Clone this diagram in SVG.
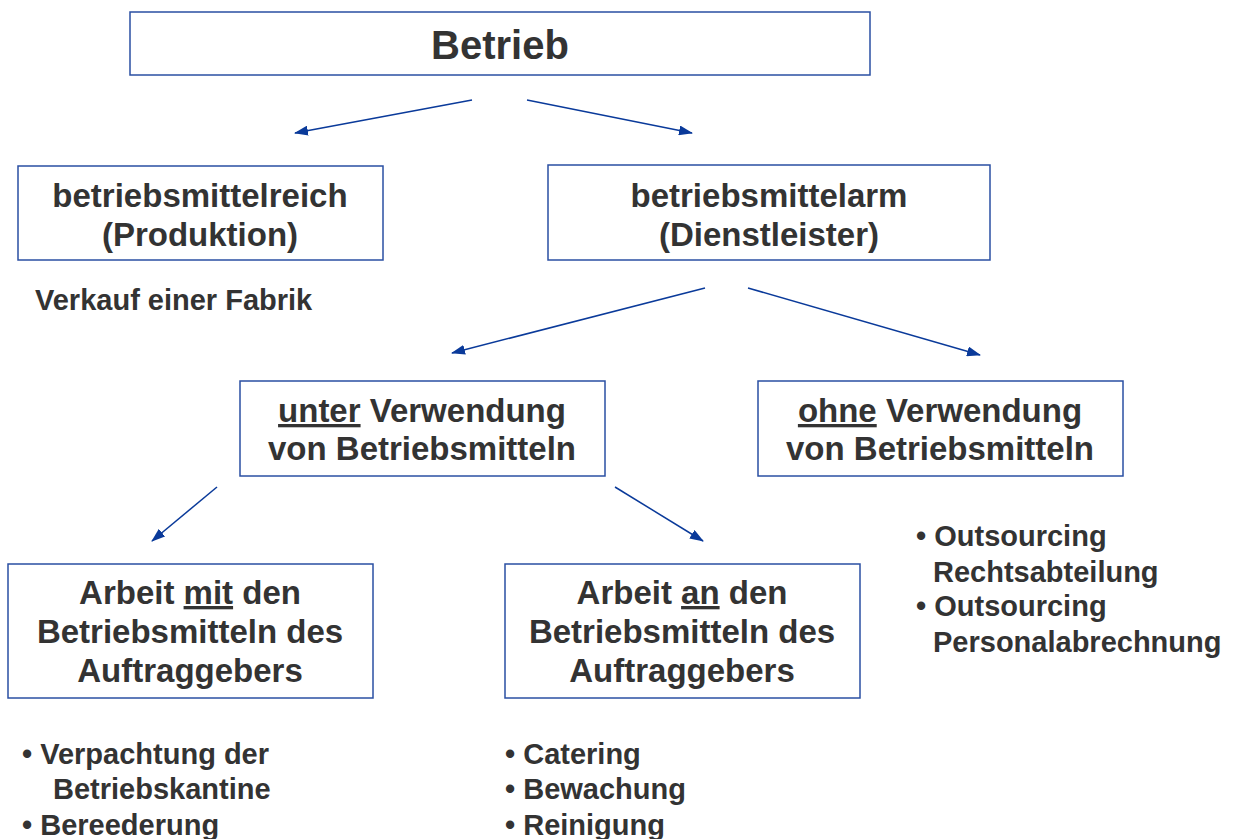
<svg xmlns="http://www.w3.org/2000/svg" width="1238" height="839" viewBox="0 0 1238 839">
<defs>
<style>
.box{fill:#fff;stroke:#2a4fa3;stroke-width:1.5}
.t{font-family:"Liberation Sans",Arial,sans-serif;font-weight:bold;fill:#333;}
.bt{font-size:33px;text-anchor:middle}
.lt{font-size:29px}
.c{stroke:#0a3a9a;stroke-width:1.5;fill:none;marker-end:url(#ah)}
</style>
<marker id="ah" viewBox="0 0 14 10" refX="13" refY="5" markerWidth="14" markerHeight="10" markerUnits="userSpaceOnUse" orient="auto">
<path d="M0,0 L14,5 L0,10 z" fill="#0a3a9a"/>
</marker>
</defs>
<rect width="1238" height="839" fill="#fff"/>
<g id="connectors">
<line class="c" x1="472" y1="100" x2="295" y2="133"/>
<line class="c" x1="527" y1="100" x2="692" y2="133"/>
<line class="c" x1="705" y1="288" x2="452" y2="353"/>
<line class="c" x1="748" y1="288" x2="980" y2="355"/>
<line class="c" x1="217" y1="487" x2="152" y2="541"/>
<line class="c" x1="615" y1="487" x2="703" y2="541"/>
</g>
<g id="betrieb">
<rect class="box" x="130" y="12" width="740" height="63"/>
<text class="t" x="500" y="59" font-size="40" text-anchor="middle">Betrieb</text>
</g>
<g id="reich">
<rect class="box" x="18" y="166" width="365" height="94"/>
<text class="t bt" x="200" y="207">betriebsmittelreich</text>
<text class="t bt" x="200" y="246">(Produktion)</text>
</g>
<g id="arm">
<rect class="box" x="548" y="165" width="442" height="95"/>
<text class="t bt" x="769" y="207">betriebsmittelarm</text>
<text class="t bt" x="769" y="246">(Dienstleister)</text>
</g>
<g id="verkauf">
<text class="t lt" x="35" y="310">Verkauf einer Fabrik</text>
</g>
<g id="unter">
<rect class="box" x="240" y="381" width="365" height="95"/>
<text class="t bt" x="422" y="422"><tspan text-decoration="underline">unter</tspan> Verwendung</text>
<text class="t bt" x="422" y="460">von Betriebsmitteln</text>
</g>
<g id="ohne">
<rect class="box" x="758" y="381" width="365" height="95"/>
<text class="t bt" x="940" y="422"><tspan text-decoration="underline">ohne</tspan> Verwendung</text>
<text class="t bt" x="940" y="460">von Betriebsmitteln</text>
</g>
<g id="mit">
<rect class="box" x="8" y="564" width="365" height="134"/>
<text class="t bt" x="190" y="604">Arbeit <tspan text-decoration="underline">mit</tspan> den</text>
<text class="t bt" x="190" y="643">Betriebsmitteln des</text>
<text class="t bt" x="190" y="682">Auftraggebers</text>
</g>
<g id="an">
<rect class="box" x="505" y="564" width="355" height="134"/>
<text class="t bt" x="682" y="604">Arbeit <tspan text-decoration="underline">an</tspan> den</text>
<text class="t bt" x="682" y="643">Betriebsmitteln des</text>
<text class="t bt" x="682" y="682">Auftraggebers</text>
</g>
<g id="list-ohne">
<text class="t lt" x="916" y="546">• Outsourcing</text>
<text class="t lt" x="933" y="582">Rechtsabteilung</text>
<text class="t lt" x="916" y="616">• Outsourcing</text>
<text class="t lt" x="933" y="652">Personalabrechnung</text>
</g>
<g id="list-mit">
<text class="t lt" x="22" y="764">• Verpachtung der</text>
<text class="t lt" x="53" y="799">Betriebskantine</text>
<text class="t lt" x="22" y="835">• Bereederung</text>
</g>
<g id="list-an">
<text class="t lt" x="505" y="764">• Catering</text>
<text class="t lt" x="505" y="799">• Bewachung</text>
<text class="t lt" x="505" y="835">• Reinigung</text>
</g>
</svg>
